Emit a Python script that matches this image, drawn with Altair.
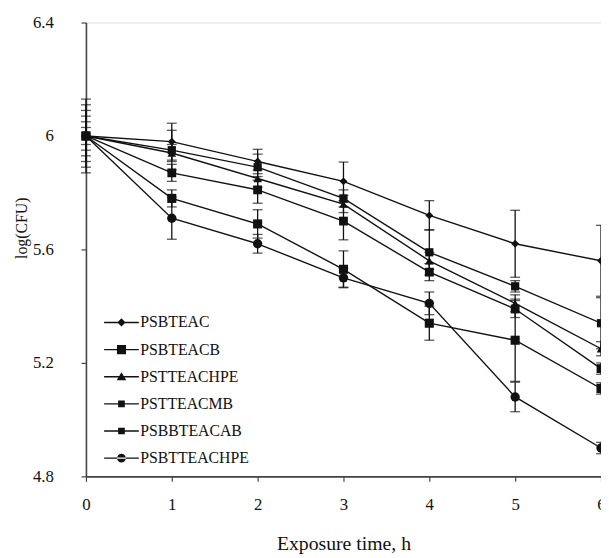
import altair as alt
import pandas as pd

# ---- data ----
times = [0, 1, 2, 3, 4, 5, 6]
series_names = ["PSBTEAC", "PSBTEACB", "PSTTEACHPE", "PSTTEACMB", "PSBBTEACAB", "PSBTTEACHPE"]

psbteac = [6.00, 5.98, 5.91, 5.84, 5.72, 5.62, 5.56]
psbteacb = [6.00, 5.95, 5.89, 5.78, 5.59, 5.47, 5.34]
psttteachpe = [6.00, 5.94, 5.85, 5.76, 5.56, 5.41, 5.25]
psttteacmb = [6.00, 5.87, 5.81, 5.70, 5.52, 5.39, 5.18]
psbbteacab = [6.00, 5.78, 5.69, 5.53, 5.34, 5.28, 5.11]
psbtteachpe = [6.00, 5.71, 5.62, 5.50, 5.41, 5.08, 4.90]

err_psbteac = [0.13, 0.065, 0.043, 0.068, 0.052, 0.118, 0.125]
err_psbteacb = [0.11, 0.07, 0.046, 0.03, 0.08, 0.02, 0.09]
err_psttteachpe = [0.09, 0.03, 0.03, 0.03, 0.03, 0.03, 0.025]
err_psttteacmb = [0.07, 0.03, 0.047, 0.066, 0.03, 0.03, 0.02]
err_psbbteacab = [0.05, 0.03, 0.05, 0.065, 0.06, 0.145, 0.02]
err_psbtteachpe = [0.03, 0.074, 0.033, 0.033, 0.04, 0.052, 0.02]

values = [psbteac, psbteacb, psttteachpe, psttteacmb, psbbteacab, psbtteachpe]
errors = [err_psbteac, err_psbteacb, err_psttteachpe, err_psttteacmb, err_psbbteacab, err_psbtteachpe]

y_ticks = [4.8, 5.2, 5.6, 6.0, 6.4]

rows = []
for name, vals, errs in zip(series_names, values, errors):
    for t, v, e in zip(times, vals, errs):
        rows.append({"series": name, "time": t, "logcfu": v, "err": e})
df = pd.DataFrame(rows)

FONT = "Liberation Serif"
INK = "#111111"

x_enc = alt.X(
    "time:Q",
    scale=alt.Scale(domain=[0, 6], nice=False, zero=False),
    axis=alt.Axis(
        values=times, format="d", title="Exposure time, h", grid=False,
        labelFont=FONT, labelFontSize=17, labelColor=INK, labelPadding=16,
        tickSize=5, tickColor="#444444", tickWidth=1.2,
        domainColor="#444444", domainWidth=1.6,
        titleFont=FONT, titleFontSize=20, titleFontWeight="normal", titleColor=INK,
        titleY=68, titleBaseline="middle",
        labelFlush=False,
    ),
)
y_enc = alt.Y(
    "logcfu:Q",
    scale=alt.Scale(domain=[4.8, 6.4], nice=False, zero=False),
    axis=alt.Axis(
        values=y_ticks, format="~g", title="log(CFU)", grid=False,
        labelFont=FONT, labelFontSize=17, labelColor=INK, labelPadding=28,
        tickSize=5, tickColor="#444444", tickWidth=1.2,
        domainColor="#444444", domainWidth=1.6,
        titleFont=FONT, titleFontSize=16, titleFontWeight="normal", titleColor=INK,
        titleX=-65, titleY=208, titleBaseline="middle", titleAngle=-90,
        labelFlush=False,
    ),
)

base = alt.Chart(df)

lines = base.mark_line(color=INK, strokeWidth=1.4).encode(
    x=x_enc, y=y_enc, detail="series:N", order="time:Q"
)

bars = base.transform_calculate(
    lo="datum.logcfu - datum.err", hi="datum.logcfu + datum.err"
).mark_rule(color=INK, strokeWidth=1.3).encode(
    x="time:Q", y="lo:Q", y2="hi:Q"
)
caps_lo = base.transform_calculate(lo="datum.logcfu - datum.err").mark_tick(
    color=INK, orient="horizontal", size=10, thickness=1.3
).encode(x="time:Q", y="lo:Q")
caps_hi = base.transform_calculate(hi="datum.logcfu + datum.err").mark_tick(
    color=INK, orient="horizontal", size=10, thickness=1.3
).encode(x="time:Q", y="hi:Q")

point_shapes = ["diamond", "square", "triangle-up", "square", "square", "circle"]
point_sizes = [64, 90, 100, 45, 45, 81]

points = base.mark_point(filled=True, color=INK, opacity=1).encode(
    x="time:Q",
    y="logcfu:Q",
    shape=alt.Shape("series:N", scale=alt.Scale(domain=series_names, range=point_shapes), legend=None),
    size=alt.Size("series:N", scale=alt.Scale(domain=series_names, range=point_sizes), legend=None),
)

# legend symbols: a filled thin bar (the line) through the marker (unit = 4px at size 64)
LINE = "M-4.4,-0.17H4.4V0.17H-4.4Z"
legend_paths = [
    LINE + "M0,-1.05L1.05,0L0,1.05L-1.05,0Z",
    LINE + "M-1.15,-1.15H1.15V1.15H-1.15Z",
    LINE + "M0,-1.15L1.2,0.9L-1.2,0.9Z",
    LINE + "M-0.85,-0.85H0.85V0.85H-0.85Z",
    LINE + "M-0.85,-0.85H0.85V0.85H-0.85Z",
    LINE + "M-1.1,0A1.1,1.1,0,1,0,1.1,0A1.1,1.1,0,1,0,-1.1,0Z",
]

legend_layer = base.transform_filter("false").mark_point(
    filled=True, color=INK, size=64
).encode(
    x="time:Q",
    y="logcfu:Q",
    shape=alt.Shape(
        "series:N",
        scale=alt.Scale(domain=series_names, range=legend_paths),
        legend=alt.Legend(
            title=None, orient="none", legendX=28, legendY=296,
            labelFont=FONT, labelFontSize=16, labelColor=INK,
            labelOffset=11, rowPadding=11.5, padding=0,
            symbolSize=64, symbolFillColor=INK, symbolOpacity=1,
        ),
    ),
)

chart = alt.layer(lines, bars, caps_lo, caps_hi, points, legend_layer).resolve_scale(
    shape="independent", size="independent"
).properties(
    width=522, height=460,
    autosize=alt.AutoSizeParams(type="none"),
    padding={"left": 79, "top": 11, "right": 0, "bottom": 79},
).configure_view(
    stroke="#444444", strokeWidth=1.6
).configure(background="white")

chart.save("out.html", embed_options={"renderer": "svg", "actions": False})
